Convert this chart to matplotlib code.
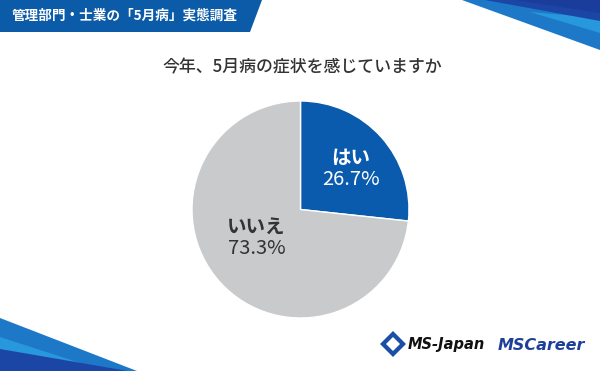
import matplotlib
matplotlib.use("Agg")
import matplotlib.pyplot as plt
from matplotlib.patches import Polygon

plt.rcParams['font.family'] = ['Noto Sans CJK JP', 'DejaVu Sans']

# data
labels = ['はい', 'いいえ']
shares = [26.7, 73.3]
colors = ['#0a5aad', '#c9cacc']
header = '管理部門・士業の「5月病」実態調査'
title = '今年、5月病の症状を感じていますか'

W, H = 600, 371
fig = plt.figure(figsize=(6, 3.71), dpi=100)

# background layer in pixel coordinates
bg = fig.add_axes([0, 0, 1, 1])
bg.set_xlim(0, W)
bg.set_ylim(H, 0)
bg.axis('off')

def poly(pts, c):
    bg.add_patch(Polygon(pts, closed=True, facecolor=c, edgecolor='none'))

# header banner
poly([(0, 0), (262, 0), (250, 32), (0, 32)], '#0b5ba8')
bg.text(12, 16, header, color='white', fontsize=9.8, fontweight='bold',
        va='center', ha='left')

# top right stripes
poly([(462, 0), (600, 0), (600, 50)], '#1e78c8')
poly([(530, 12), (600, 18), (600, 33)], '#2898dc')
poly([(485, 0), (600, 0), (600, 21)], '#1c46a6')
poly([(515, 0), (600, 0), (600, 13)], '#1a3c9a')

# bottom left stripes
poly([(0, 318), (137, 371), (0, 371)], '#1e78c8')
poly([(0, 337), (105, 371), (0, 371)], '#2898dc')
poly([(0, 349), (128, 371), (0, 371)], '#1c46a6')

# title
bg.text(302, 67, title, color='#333333', fontsize=12.2, fontweight='medium',
        ha='center', va='center')

# logos
poly([(393, 331), (406, 344), (393, 357), (380, 344)], '#1a4fa8')
poly([(393, 337), (400, 344), (393, 351), (386, 344)], 'white')
bg.text(408, 345, 'MS-Japan', color='#111111', fontsize=10.5, fontweight='bold',
        style='italic', ha='left', va='center', family='DejaVu Sans')
bg.text(498, 345, 'MSCareer', color='#1d3f9a', fontsize=11.5, fontweight='bold',
        style='italic', ha='left', va='center', family='DejaVu Sans')

# pie
cx, cy, r = 300.5, 209.5, 108.5
ax = fig.add_axes([(cx - r) / W, 1 - (cy + r) / H, 2 * r / W, 2 * r / H])
ax.pie(shares, colors=colors, startangle=90, counterclock=False, radius=1,
       wedgeprops=dict(edgecolor='white', linewidth=1))
ax.set_xlim(-1, 1)
ax.set_ylim(-1, 1)
ax.axis('off')

ax.text(0.465, 0.475, labels[0], color='white', fontsize=14, fontweight='bold',
        ha='center', va='center')
ax.text(0.462, 0.272, f'{shares[0]}%', color='white', fontsize=14.5,
        ha='center', va='center')
ax.text(-0.41, -0.161, labels[1], color='#333333', fontsize=14, fontweight='bold',
        ha='center', va='center')
ax.text(-0.401, -0.355, f'{shares[1]}%', color='#333333', fontsize=14.5,
        ha='center', va='center')

fig.savefig('out.png', dpi=100)
